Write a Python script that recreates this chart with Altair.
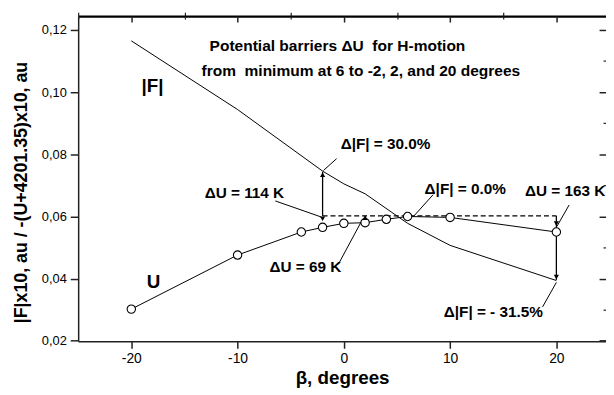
import altair as alt
import pandas as pd

# ---- data ----
beta_U = [-20, -10, -4, -2, 0, 2, 4, 6, 10, 20]
U_vals = [0.0302, 0.0476, 0.0550, 0.0565, 0.0578, 0.0580, 0.0591, 0.0600, 0.0597, 0.0550]

beta_F = [-20, -10, -2, 0, 2, 6, 10, 20]
F_vals = [0.1165, 0.0944, 0.0746, 0.0705, 0.0673, 0.0578, 0.0507, 0.0394]

dash_x = [-2, 20]
dash_y = [0.0602, 0.0602]

# vertical arrows (x, from, to)
arr_x = [-2, 2, 20]
arr_y1 = [0.0602, 0.0584, 0.0602]
arr_y2 = [0.0744, 0.0602, 0.0396]

# arrowheads
head_x = [-2, -2, 2, 20, 20]
head_y = [0.0734, 0.0593, 0.0596, 0.0577, 0.0405]
head_shape = ["triangle-up", "triangle-down", "triangle-up", "triangle-down", "triangle-down"]

# leader lines from labels
lead_x1 = [-6.45, -1.92, -0.52, 6.55, 21.2, 18.7]
lead_y1 = [0.0650, 0.0748, 0.0446, 0.0600, 0.0637, 0.0309]
lead_x2 = [-2.1, -0.68, 1.65, 8.4, 20.05, 20.0]
lead_y2 = [0.0598, 0.0786, 0.0584, 0.0670, 0.0568, 0.0388]

# annotation labels
ann_text = ["\u0394U = 114 K", "\u0394|F| = 30.0%", "\u0394U = 69 K",
            "\u0394|F| = 0.0%", "\u0394U = 163 K", "\u0394|F| = - 31.5%"]
ann_x = [-13.1, -0.3, -7.0, 7.6, 17.05, 9.4]
ann_y = [0.0676, 0.0832, 0.0436, 0.0687, 0.0683, 0.0293]

title_text = ["Potential barriers \u0394U \u00a0for H-motion",
              "from \u00a0minimum at 6 to -2, 2, and 20 degrees"]
title_x = [-0.6, 1.6]
title_y = [0.1149, 0.1069]

curve_text = ["|F|", "U"]
curve_x = [-18.0, -17.9]
curve_y = [0.1019, 0.0389]

x_major = [-20, -10, 0, 10, 20]
x_minor = [-25, -15, -5, 5, 15]
y_major = [0.02, 0.04, 0.06, 0.08, 0.10, 0.12]
y_minor = [0.03, 0.05, 0.07, 0.09, 0.11]

FONT = "Liberation Sans"
XS = alt.Scale(domain=[-25, 24.67], nice=False, zero=False)
YS = alt.Scale(domain=[0.01984, 0.12445], nice=False, zero=False)
YLBL = "replace(format(datum.value, '.2f'), '.', ',')"
XLBL = "datum.value < 0 ? '-' + abs(datum.value) : '' + datum.value"

dfU = pd.DataFrame({"b": beta_U, "v": U_vals})
dfF = pd.DataFrame({"b": beta_F, "v": F_vals})
dfD = pd.DataFrame({"b": dash_x, "v": dash_y})
dfA = pd.DataFrame({"b": arr_x, "v": arr_y1, "v2": arr_y2})
dfH = pd.DataFrame({"b": head_x, "v": head_y, "s": head_shape})
dfL = pd.DataFrame({"b": lead_x1, "v": lead_y1, "b2": lead_x2, "v2": lead_y2})
dfT = pd.DataFrame({"b": ann_x, "v": ann_y, "t": ann_text})
dfTT = pd.DataFrame({"b": title_x, "v": title_y, "t": title_text})
dfC = pd.DataFrame({"b": curve_x, "v": curve_y, "t": curve_text})

# F line with main bottom / left axes
f_line = alt.Chart(dfF).mark_line(color="black", strokeWidth=1).encode(
    x=alt.X("b:Q", scale=XS, axis=alt.Axis(
        values=x_major, labelExpr=XLBL, title="\u03b2, degrees", tickSize=7, tickWidth=1.5,
        domainWidth=1.5, domainColor="#222", tickColor="#222", grid=False,
        labelFont=FONT, labelFontSize=14, labelColor="black", labelPadding=3,
        titleFont=FONT, titleFontSize=19, titleFontWeight="bold", titleColor="black",
        titleY=37, titleBaseline="middle")),
    y=alt.Y("v:Q", scale=YS, axis=alt.Axis(
        values=y_major, labelExpr=YLBL, title="|F|x10, au / -(U+4201.35)x10, au",
        tickSize=8, tickWidth=1.5, domainWidth=1.5, domainColor="#222", tickColor="#222",
        grid=False, labelFont=FONT, labelFontSize=13, labelColor="black", labelPadding=4,
        titleFont=FONT, titleFontSize=18, titleFontWeight="bold", titleColor="black",
        titleX=-57, titleY=178, titleBaseline="middle", titleAlign="center")),
)

# U line with minor bottom / left ticks
u_line = alt.Chart(dfU).mark_line(color="black", strokeWidth=1).encode(
    x=alt.X("b:Q", scale=XS, axis=alt.Axis(
        values=x_minor, labels=False, domain=False, tickSize=4, tickWidth=1.2,
        tickColor="#222", grid=False, title=None)),
    y=alt.Y("v:Q", scale=YS, axis=alt.Axis(
        values=y_minor, labels=False, domain=False, tickSize=4, tickWidth=1.2,
        tickColor="#222", grid=False, title=None)),
)

# dashed line with top frame line and right major inward ticks
dash = alt.Chart(dfD).mark_line(color="black", strokeWidth=1.3, strokeDash=[5, 3]).encode(
    x=alt.X("b:Q", scale=XS, axis=alt.Axis(
        orient="top", labels=False, ticks=False, domainWidth=2.5, domainColor="black",
        grid=False, title=None)),
    y=alt.Y("v:Q", scale=YS, axis=alt.Axis(
        orient="right", values=y_major, labels=False, domain=False, tickSize=7,
        tickWidth=1.5, tickColor="#222", offset=-7, grid=False, title=None)),
)

# U circles with top major inward ticks and right minor inward ticks
u_pts = alt.Chart(dfU).mark_point(shape="circle", size=72, filled=True, fill="white",
                                  stroke="black", strokeWidth=1.1, opacity=1).encode(
    x=alt.X("b:Q", scale=XS, axis=alt.Axis(
        orient="top", values=x_major, labels=False, domain=False, tickSize=6,
        tickWidth=1.5, tickColor="#222", offset=-6, grid=False, title=None)),
    y=alt.Y("v:Q", scale=YS, axis=alt.Axis(
        orient="right", values=y_minor, labels=False, domain=False, tickSize=3,
        tickWidth=1.2, tickColor="#222", offset=-3, grid=False, title=None)),
)

# vertical arrows with top minor inward ticks
arrows = alt.Chart(dfA).mark_rule(color="black", strokeWidth=1.3).encode(
    x=alt.X("b:Q", scale=XS, axis=alt.Axis(
        orient="top", values=x_minor, labels=False, domain=False, tickSize=3,
        tickWidth=1.2, tickColor="#222", offset=-3, grid=False, title=None)),
    y=alt.Y("v:Q", scale=YS, axis=None),
    y2="v2:Q",
)

heads = alt.Chart(dfH).mark_point(filled=True, color="black", size=28, opacity=1).encode(
    x=alt.X("b:Q", scale=XS, axis=None),
    y=alt.Y("v:Q", scale=YS, axis=None),
    shape=alt.Shape("s:N", scale=None, legend=None),
)

leads = alt.Chart(dfL).mark_rule(color="black", strokeWidth=1).encode(
    x=alt.X("b:Q", scale=XS, axis=None),
    x2="b2:Q",
    y=alt.Y("v:Q", scale=YS, axis=None),
    y2="v2:Q",
)

ann = alt.Chart(dfT).mark_text(font=FONT, fontSize=15.5, fontWeight="bold", align="left",
                               baseline="middle", color="black", clip=True).encode(
    x=alt.X("b:Q", scale=XS, axis=None),
    y=alt.Y("v:Q", scale=YS, axis=None),
    text="t:N",
)

ttl = alt.Chart(dfTT).mark_text(font=FONT, fontSize=15.7, fontWeight="bold", align="center",
                                baseline="middle", color="black").encode(
    x=alt.X("b:Q", scale=XS, axis=None),
    y=alt.Y("v:Q", scale=YS, axis=None),
    text="t:N",
)

crv = alt.Chart(dfC).mark_text(font=FONT, fontSize=19, fontWeight="bold", align="center",
                               baseline="middle", color="black").encode(
    x=alt.X("b:Q", scale=XS, axis=None),
    y=alt.Y("v:Q", scale=YS, axis=None),
    text="t:N",
)

chart = alt.layer(f_line, u_line, dash, arrows, leads, u_pts, heads, ann, ttl, crv).resolve_axis(
    x="independent", y="independent"
).properties(
    width=534, height=329, autosize="none",
    padding={"left": 71, "top": 6, "right": 0, "bottom": 45},
    background="white",
).configure_view(stroke=None)

chart.save("out.html", embed_options={"renderer": "svg", "actions": False})
